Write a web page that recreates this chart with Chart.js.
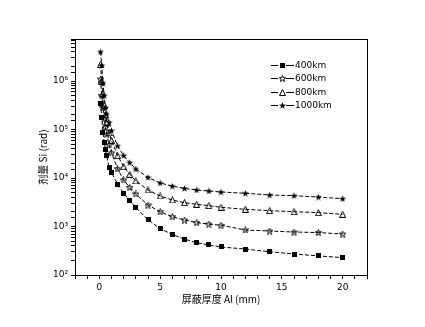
<!DOCTYPE html>
<html>
<head>
<meta charset="utf-8">
<script src="https://cdn.jsdelivr.net/npm/chart.js@4.4.1/dist/chart.umd.min.js"></script>
<style>
  html, body { margin: 0; padding: 0; background: #fff; }
  canvas { display: block; }
</style>
</head>
<body>
<canvas id="dose" width="425" height="327"></canvas>
<script>
// shield thickness (mm Al)
const thickness = [0.1, 0.2, 0.3, 0.4, 0.5, 0.6, 0.8, 1, 1.5, 2, 2.5, 3, 4, 5, 6, 7, 8, 9, 10, 12, 14, 16, 18, 20];

// dose Si (rad) per orbit altitude
const dose400 = [3.5e5, 1.8e5, 8.5e4, 5.5e4, 3.9e4, 2.97e4, 1.66e4, 1.29e4, 7.5e3, 4.9e3, 3.4e3, 2.46e3, 1.38e3, 900, 685, 550, 464, 416, 378, 343, 302, 271, 248, 228];
const dose600 = [1.1e6, 5e5, 2.8e5, 1.7e5, 1.1e5, 8e4, 4.8e4, 3.3e4, 1.55e4, 9.1e3, 6.4e3, 4.68e3, 2.77e3, 2.02e3, 1.59e3, 1.36e3, 1.2e3, 1.12e3, 1.06e3, 848, 807, 770, 750, 700];
const dose800 = [2.2e6, 1.0e6, 5.5e5, 3.2e5, 2.0e5, 1.4e5, 8.5e4, 6e4, 2.9e4, 1.71e4, 1.19e4, 8.7e3, 5.66e3, 4.26e3, 3.52e3, 3.09e3, 2.87e3, 2.69e3, 2.49e3, 2.26e3, 2.12e3, 2.02e3, 1.93e3, 1.78e3];
const dose1000 = [4.0e6, 2.1e6, 9e5, 5e5, 2.8e5, 2.1e5, 1.4e5, 9.5e4, 4.6e4, 2.9e4, 2.07e4, 1.53e4, 1.03e4, 7.9e3, 6.8e3, 6.1e3, 5.66e3, 5.4e3, 5.14e3, 4.84e3, 4.46e3, 4.32e3, 4.05e3, 3.74e3];

const seriesLabels = ['400km', '600km', '800km', '1000km'];
const xTickLabels = [0, 5, 10, 15, 20];

// marker images
function makeMarker(size, draw) {
  const c = document.createElement('canvas');
  c.width = size; c.height = size;
  const g = c.getContext('2d');
  g.strokeStyle = '#000';
  g.fillStyle = '#000';
  g.lineWidth = 1;
  draw(g, size);
  return c;
}
function starPath(g, cx, cy, r) {
  g.beginPath();
  for (let i = 0; i < 10; i++) {
    const rr = i % 2 === 0 ? r : r * 0.42;
    const a = -Math.PI / 2 + i * Math.PI / 5;
    g.lineTo(cx + rr * Math.cos(a), cy + rr * Math.sin(a));
  }
  g.closePath();
}
const squareMark = makeMarker(5, (g, s) => g.fillRect(0, 0, s, s));
const openStarMark = makeMarker(7, (g, s) => { starPath(g, 3.5, 3.8, 3.3); g.stroke(); });
const triangleMark = makeMarker(7, (g, s) => {
  g.beginPath(); g.moveTo(3.5, 0.5); g.lineTo(6.5, 6.5); g.lineTo(0.5, 6.5); g.closePath(); g.stroke();
});
const filledStarMark = makeMarker(7, (g, s) => { starPath(g, 3.5, 3.8, 3.6); g.fill(); });

function toPoints(values) {
  return values.map((v, i) => ({ x: thickness[i], y: v }));
}
function series(label, values, marker) {
  return {
    label: label,
    data: toPoints(values),
    borderColor: '#000',
    backgroundColor: '#000',
    borderWidth: 1,
    borderDash: [4, 2],
    pointStyle: marker,
    pointRadius: 3,
    tension: 0,
    fill: false
  };
}

const sup = { '0': '⁰', '1': '¹', '2': '²', '3': '³', '4': '⁴', '5': '⁵', '6': '⁶', '7': '⁷', '8': '⁸', '9': '⁹' };

const insideLegend = {
  id: 'insideLegend',
  afterDraw(chart) {
    const ctx = chart.ctx;
    const a = chart.chartArea;
    const x0 = a.left + 196;
    ctx.save();
    ctx.font = '9px "DejaVu Sans", sans-serif';
    ctx.textBaseline = 'middle';
    ctx.fillStyle = '#000';
    ctx.strokeStyle = '#000';
    ctx.lineWidth = 1;
    chart.data.datasets.forEach((ds, i) => {
      const y = Math.round(a.top + 26 + i * 13.4) + 0.5;
      ctx.beginPath();
      ctx.moveTo(x0, y); ctx.lineTo(x0 + 7, y);
      ctx.moveTo(x0 + 15, y); ctx.lineTo(x0 + 23, y);
      ctx.stroke();
      const m = ds.pointStyle;
      ctx.drawImage(m, Math.round(x0 + 11 - m.width / 2), Math.round(y - m.height / 2));
      ctx.fillText(ds.label, x0 + 24, y);
    });
    ctx.restore();
  }
};

const frame = {
  id: 'frame',
  afterDraw(chart) {
    const a = chart.chartArea;
    const ctx = chart.ctx;
    ctx.save();
    ctx.strokeStyle = '#000';
    ctx.lineWidth = 1;
    ctx.strokeRect(a.left + 0.5, a.top + 0.5, a.right - a.left, a.bottom - a.top);
    ctx.restore();
  }
};

new Chart(document.getElementById('dose').getContext('2d'), {
  type: 'line',
  data: {
    datasets: [
      series(seriesLabels[0], dose400, squareMark),
      series(seriesLabels[1], dose600, openStarMark),
      series(seriesLabels[2], dose800, triangleMark),
      series(seriesLabels[3], dose1000, filledStarMark)
    ]
  },
  options: {
    responsive: false,
    animation: false,
    maintainAspectRatio: false,
    layout: { padding: { top: 39, right: 58, left: 0, bottom: 0 } },
    plugins: {
      legend: { display: false },
      tooltip: { enabled: false }
    },
    scales: {
      x: {
        type: 'linear',
        min: -2,
        max: 22,
        afterFit: s => { s.height = 52; },
        grid: { drawOnChartArea: false, drawTicks: true, tickLength: 4, color: '#000' },
        border: { color: '#000' },
        ticks: {
          stepSize: 1,
          autoSkip: false,
          maxRotation: 0,
          padding: 3,
          color: '#000',
          font: { family: '"DejaVu Sans", sans-serif', size: 9 },
          callback: v => xTickLabels.includes(v) ? String(v) : ''
        },
        title: {
          display: true,
          text: '屏蔽厚度 Al (mm)',
          color: '#000',
          font: { family: '"Noto Sans CJK SC", sans-serif', size: 10 },
          padding: { top: 0, bottom: 22 }
        }
      },
      y: {
        type: 'logarithmic',
        min: 100,
        max: 7.35e6,
        afterFit: s => { s.width = 75; },
        grid: { drawOnChartArea: false, drawTicks: true, tickLength: 4, color: '#000' },
        border: { color: '#000' },
        ticks: {
          autoSkip: false,
          padding: 3,
          color: '#000',
          font: { family: '"DejaVu Sans", sans-serif', size: 9 },
          callback: v => {
            const e = Math.log10(v);
            if (Math.abs(e - Math.round(e)) > 1e-9) return '';
            return '10' + String(Math.round(e)).split('').map(d => sup[d]).join('');
          }
        },
        title: {
          display: true,
          text: '剂量 Si (rad)',
          color: '#000',
          font: { family: '"Noto Sans CJK SC", sans-serif', size: 10 },
          padding: { top: 37, bottom: 0 }
        }
      }
    }
  },
  plugins: [insideLegend, frame]
});
</script>
</body>
</html>
